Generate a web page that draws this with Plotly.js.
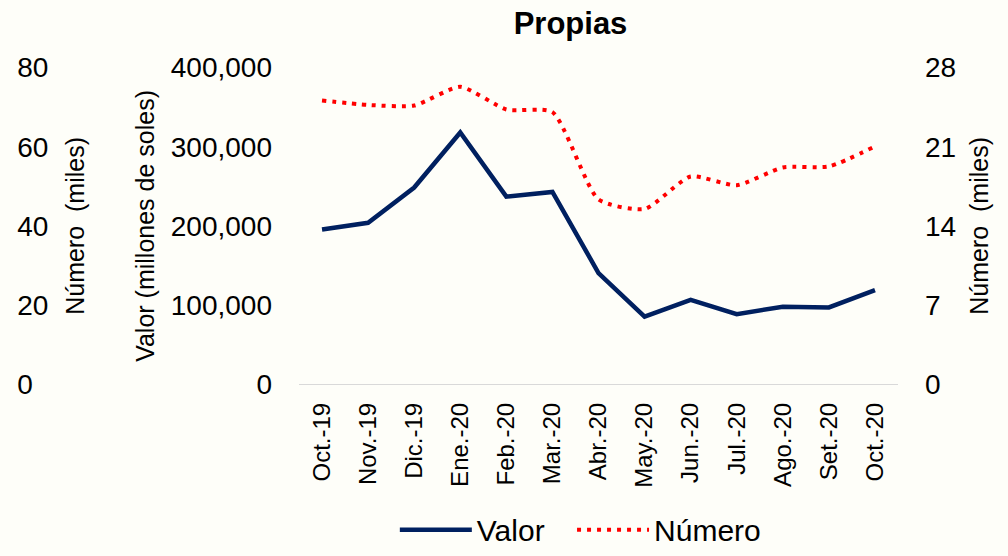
<!DOCTYPE html>
<html>
<head>
<meta charset="utf-8">
<script src="https://cdn.plot.ly/plotly-3.0.1.min.js"></script>
<style>html,body{margin:0;padding:0;background:#FEFEF9;}#chart{width:1008px;height:556px;}</style>
</head>
<body>
<div id="chart"></div>
<script>
const months = ["Oct.-19","Nov.-19","Dic.-19","Ene.-20","Feb.-20","Mar.-20","Abr.-20","May.-20","Jun.-20","Jul.-20","Ago.-20","Set.-20","Oct.-20"];
const valor = [195600, 204000, 248500, 318000, 237000, 243000, 140500, 85500, 106700, 88500, 98000, 97000, 119000];
const numero = [25.1, 24.7, 24.65, 26.3, 24.3, 24.06, 16.35, 15.5, 18.37, 17.6, 19.17, 19.26, 21.04];
const leftTicks = [0, 20, 40, 60, 80];

const FONT = "Liberation Sans, Arial, sans-serif";

const traces = [
  {
    x: months, y: valor, name: "Valor", type: "scatter", mode: "lines",
    line: {color: "#002060", width: 4.5}, yaxis: "y", hoverinfo: "skip", legend: "legend"
  },
  {
    x: months, y: numero, name: "Número", type: "scatter", mode: "lines",
    line: {color: "#FF0000", width: 4, dash: "4px,6px", shape: "spline", smoothing: 0.6}, yaxis: "y2", hoverinfo: "skip", legend: "legend2"
  },
  {
    x: months, y: months.map(() => null), name: "", type: "scatter", mode: "lines",
    yaxis: "y3", showlegend: false, hoverinfo: "skip", line: {width: 0}
  }
];

const legendBase = {orientation: "h", xanchor: "left", y: 0.028, yanchor: "middle", font: {family: FONT, size: 30}, bgcolor: "rgba(0,0,0,0)", itemwidth: 72};

const layout = {
  width: 1008, height: 556,
  paper_bgcolor: "#FEFEF9", plot_bgcolor: "#FEFEF9",
  margin: {l: 0, r: 0, t: 0, b: 0},
  font: {family: FONT, color: "#000000", size: 25},
  title: {text: "<b>Propias</b>", font: {family: FONT, size: 31, color: "#000"}, x: 0.566, xref: "paper", xanchor: "center", y: 0.958, yref: "paper", yanchor: "middle", automargin: false},
  showlegend: true,
  legend: Object.assign({}, legendBase, {x: 0.3917}),
  legend2: Object.assign({}, legendBase, {x: 0.5675}),
  xaxis: {
    domain: [0.2966, 0.8909], type: "category", range: [-0.5, 12.5], tickangle: -90,
    tickfont: {family: FONT, size: 24}, showline: true, linecolor: "#D9D9D9", linewidth: 1,
    ticks: "", showgrid: false, zeroline: false, ticklabelstandoff: 8, automargin: false
  },
  yaxis: {
    domain: [0.295, 0.8759], range: [0, 400000], dtick: 100000, tickformat: ",",
    showgrid: false, zeroline: false, showline: false, ticks: "", automargin: false,
    tickfont: {family: FONT, size: 28}, ticklabelstandoff: 26,
    title: {text: "Valor (millones de soles)", font: {family: FONT, size: 25}, standoff: 8}
  },
  yaxis2: {
    overlaying: "y", side: "right", anchor: "x", range: [0, 28], dtick: 7, automargin: false,
    showgrid: false, zeroline: false, showline: false, ticks: "",
    tickfont: {family: FONT, size: 28}, ticklabelstandoff: 26,
    title: {text: "Número  (miles)", font: {family: FONT, size: 25}, standoff: 15}
  },
  yaxis3: {
    overlaying: "y", side: "right", anchor: "free", position: 0.016, range: [0, 80], automargin: false,
    tickvals: leftTicks, showgrid: false, zeroline: false, showline: false, ticks: "",
    tickfont: {family: FONT, size: 28},
    title: {text: "Número  (miles)", font: {family: FONT, size: 25}, standoff: 19}
  }
};

Plotly.newPlot("chart", traces, layout, {staticPlot: true, displayModeBar: false});
</script>
</body>
</html>
